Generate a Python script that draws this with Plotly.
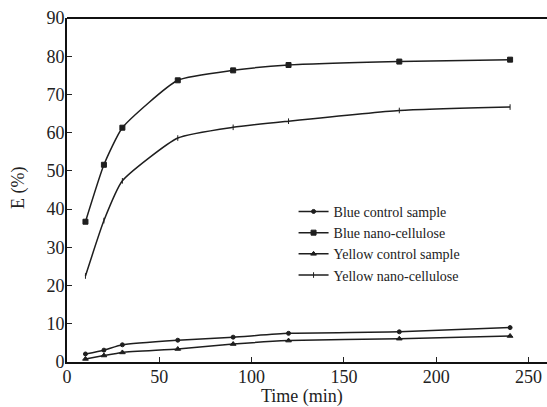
import plotly.graph_objects as go

time_min = [10, 20, 30, 60, 90, 120, 180, 240]
blue_control = [2.1, 3.1, 4.5, 5.7, 6.5, 7.5, 7.9, 9.0]
blue_nano = [36.7, 51.6, 61.3, 73.7, 76.3, 77.7, 78.6, 79.1]
yellow_control = [0.8, 1.7, 2.5, 3.4, 4.7, 5.6, 6.1, 6.8]
yellow_nano = [22.5, 37.0, 47.4, 58.6, 61.4, 63.0, 65.8, 66.7]

series = [
    ("Blue control sample", blue_control, "circle", 4),
    ("Blue nano-cellulose", blue_nano, "square", 5),
    ("Yellow control sample", yellow_control, "triangle-up", 5),
    ("Yellow nano-cellulose", yellow_nano, "line-ns", 4),
]

col = "#1e1e1e"
fig = go.Figure()
for name, ys, sym, size in series:
    fig.add_trace(go.Scatter(
        x=time_min, y=ys, name=name, mode="lines+markers",
        line=dict(color=col, width=1.5, shape="spline", smoothing=0.5),
        marker=dict(symbol=sym, size=size, color=col, line=dict(color=col, width=1)),
    ))

font = "Liberation Serif, Times New Roman, serif"
fig.update_layout(
    width=547, height=407,
    margin=dict(l=67, r=0, t=18, b=45, autoexpand=False),
    paper_bgcolor="white", plot_bgcolor="white",
    font=dict(family=font, size=18, color="#222"),
    showlegend=True,
    legend=dict(x=0.472, y=0.483, xanchor="left", yanchor="top",
                bgcolor="rgba(0,0,0,0)", font=dict(size=14, family=font),
                tracegroupgap=2, itemwidth=30),
)
fig.update_xaxes(
    range=[0, 260], tickvals=[0, 50, 100, 150, 200, 250],
    ticks="inside", ticklen=5, tickwidth=1.2, tickcolor="#222",
    showline=True, linewidth=2, linecolor="#111", mirror=False,
    showgrid=False, zeroline=False, automargin=False, ticklabelstandoff=-3,
)
fig.update_yaxes(
    range=[0, 90], tickvals=[0, 10, 20, 30, 40, 50, 60, 70, 80, 90],
    ticks="inside", ticklen=5, tickwidth=1.2, tickcolor="#222",
    showline=True, linewidth=2, linecolor="#111", mirror=False,
    showgrid=False, zeroline=False, automargin=False, ticklabelstandoff=-3,
)
fig.add_annotation(text="Time (min)", xref="paper", yref="paper",
                   x=(302 - 67) / 480, y=-(396 - 362) / 344,
                   xanchor="center", yanchor="middle", showarrow=False,
                   font=dict(size=18, family=font, color="#222"))
fig.add_annotation(text="E (%)", xref="paper", yref="paper",
                   x=-(67 - 18) / 480, y=(362 - 188) / 344, textangle=-90,
                   xanchor="center", yanchor="middle", showarrow=False,
                   font=dict(size=18, family=font, color="#222"))
fig.add_shape(type="line", xref="paper", yref="paper", x0=0, x1=1, y0=1, y1=1,
              line=dict(color="#111", width=2))
fig.write_html("out.html", config={"displayModeBar": False},
               post_script="document.body.style.margin='0';document.body.style.overflow='hidden';")
